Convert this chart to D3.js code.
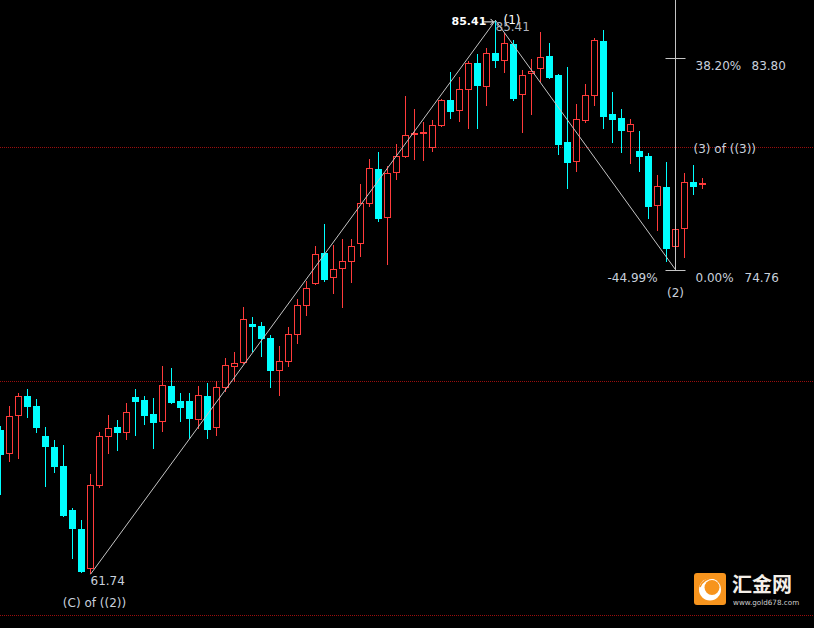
<!DOCTYPE html>
<html><head><meta charset="utf-8">
<script src="https://cdn.jsdelivr.net/npm/d3@7"></script>
<style>html,body{margin:0;padding:0;background:#000;overflow:hidden}</style>
</head><body>
<svg id="c" width="814" height="628"></svg>
<script>
// ---- data ----
const bars = [0,1,2,3,4,5,6,7,8,9,10,11,12,13,14,15,16,17,18,19,20,21,22,23,24,25,26,27,28,29,30,31,32,33,34,35,36,37,38,39,40,41,42,43,44,45,46,47,48,49,50,51,52,53,54,55,56,57,58,59,60,61,62,63,64,65,66,67,68,69,70,71,72,73,74,75,76,77,78];
const opens = [67.91,66.88,68.50,69.36,68.93,67.65,67.18,66.37,64.49,63.68,61.97,65.51,67.61,68.03,67.78,69.32,69.19,68.59,68.25,69.79,69.15,69.15,68.33,69.36,67.99,69.70,70.60,70.77,72.44,72.35,71.84,70.43,70.81,71.97,73.21,74.15,75.47,74.40,74.79,75.09,75.85,77.56,79.06,76.97,78.89,79.57,80.51,80.60,79.96,80.90,82.01,81.54,82.44,83.59,82.56,84.02,83.68,84.40,82.22,83.12,83.33,83.89,83.08,80.21,79.36,81.11,82.18,84.53,81.41,81.24,80.64,79.83,79.62,77.48,78.29,75.73,76.50,78.50,78.38];
const highs = [68.08,68.93,69.49,69.66,69.23,68.03,67.48,67.27,64.57,64.06,66.03,67.82,68.55,68.33,69.06,69.66,69.36,69.27,70.64,70.56,69.49,69.49,69.79,69.91,70.00,70.98,71.24,73.16,72.74,72.52,71.97,71.50,72.31,73.50,74.27,75.77,76.71,75.81,76.07,76.07,78.42,79.49,79.79,79.19,80.13,82.18,81.62,81.07,81.15,82.05,83.21,82.99,83.68,83.97,84.23,85.41,84.87,84.57,83.29,83.76,84.91,84.44,83.12,83.42,81.84,82.69,84.66,85.00,82.35,81.62,81.20,80.68,79.74,78.80,79.36,76.54,78.89,79.23,78.68];
const lows = [65.13,66.54,66.67,68.42,67.78,65.47,66.07,64.19,62.39,61.80,61.74,65.43,66.88,67.01,67.48,67.65,68.12,67.09,67.82,69.02,68.25,67.52,67.95,67.52,67.65,69.53,69.96,70.73,71.24,71.03,69.70,69.36,70.60,71.58,72.78,74.10,74.23,73.72,73.12,74.19,75.30,77.44,76.79,74.96,78.59,79.53,79.44,79.40,79.79,80.85,81.20,81.07,80.77,80.77,81.75,83.38,83.16,81.97,80.60,81.37,82.78,82.91,79.66,78.21,78.93,81.03,81.75,80.77,80.17,79.74,79.27,78.93,76.92,76.41,75.09,74.76,75.26,77.95,78.21];
const closes = [66.84,68.50,69.36,68.89,67.99,67.18,66.32,64.23,63.68,61.84,65.56,67.65,67.99,67.78,68.68,69.10,68.50,68.21,69.83,69.06,68.85,68.38,69.40,67.91,69.74,70.68,70.77,72.65,72.31,71.79,70.43,70.85,72.01,73.25,73.97,75.43,74.32,74.79,75.13,75.77,77.61,79.10,76.92,78.89,79.62,80.51,80.60,80.64,80.94,82.01,81.50,82.48,83.59,82.61,84.02,83.68,84.44,82.05,83.08,83.25,83.85,82.95,80.09,79.32,81.20,82.22,84.57,81.28,81.15,80.68,80.98,79.57,77.44,78.33,75.64,76.50,78.50,78.29,78.46];
const gridLevels = [60, 70, 80];
// wave pivots (bar index, price)
const waveBars = [10, 55, 75];
const wavePrices = [61.74, 85.41, 74.76];
// fibonacci levels
const fibPct = ["38.20%", "0.00%"];
const fibPrice = [83.80, 74.76];

// ---- scales ----
const W = 814, H = 628;
const x = d3.scaleLinear().domain([0, 78]).range([0.5, 702.5]);
const y = d3.scaleLinear().domain([60, 80]).range([615, 147]);
const RED = "#ff3b3b", CYAN = "#00ffff", LINE = "#c4c4c4", TXT = "#c9d0dc";

const svg = d3.select("#c");
svg.append("rect").attr("width", W).attr("height", H).attr("fill", "#000");

// grid
svg.append("g").selectAll("line").data(gridLevels).join("line")
  .attr("x1", 0).attr("x2", W)
  .attr("y1", d => Math.round(y(d)) + 0.5).attr("y2", d => Math.round(y(d)) + 0.5)
  .attr("stroke", "#9a0e0e").attr("stroke-dasharray", "1,1").attr("stroke-width", 1);

// candles
const data = bars.map((b, i) => ({b, o: opens[i], h: highs[i], l: lows[i], c: closes[i]}));
const cg = svg.append("g");
data.forEach(d => {
  const cx = Math.floor(x(d.b));
  const up = d.c >= d.o;
  const col = up ? RED : CYAN;
  cg.append("line").attr("x1", cx + 0.5).attr("x2", cx + 0.5)
    .attr("y1", Math.round(y(d.h))).attr("y2", Math.round(y(d.l)))
    .attr("stroke", col).attr("stroke-width", 1);
  const yt = Math.round(y(Math.max(d.o, d.c)));
  const yb = Math.round(y(Math.min(d.o, d.c)));
  if (up) {
    cg.append("rect").attr("x", cx - 3 + 0.5).attr("y", yt + 0.5)
      .attr("width", 6).attr("height", Math.max(1, yb - yt - 1))
      .attr("fill", "#000").attr("stroke", col).attr("stroke-width", 1);
  } else {
    cg.append("rect").attr("x", cx - 3).attr("y", yt)
      .attr("width", 7).attr("height", Math.max(1, yb - yt))
      .attr("fill", col);
  }
});

// wave lines
const pts = waveBars.map((b, i) => [x(b), y(wavePrices[i])]);
svg.append("path").attr("d", d3.line()(pts)).attr("fill", "none")
  .attr("stroke", LINE).attr("stroke-width", 1);

// fib tool
const fx = Math.floor(x(waveBars[2])) + 0.5;
svg.append("line").attr("x1", fx).attr("x2", fx).attr("y1", 0).attr("y2", Math.round(y(fibPrice[1])))
  .attr("stroke", LINE);
fibPrice.forEach((p, i) => {
  const yy = Math.round(y(p)) + 0.5;
  svg.append("line").attr("x1", fx - 10).attr("x2", fx + 10).attr("y1", yy).attr("y2", yy).attr("stroke", LINE);
  svg.append("text").attr("x", fx + 20).attr("y", yy + 11).text(fibPct[i])
    .attr("fill", TXT).attr("font-family", "DejaVu Sans").attr("font-size", 12);
  svg.append("text").attr("x", fx + (i === 0 ? 76 : 69)).attr("y", yy + 11).text(p.toFixed(2))
    .attr("fill", TXT).attr("font-family", "DejaVu Sans").attr("font-size", 12);
});

function label(t, xx, yy, opts = {}) {
  return svg.append("text").attr("x", xx).attr("y", yy).text(t)
    .attr("fill", opts.fill || TXT).attr("font-family", "DejaVu Sans")
    .attr("font-size", opts.size || 12).attr("font-weight", opts.weight || "normal")
    .attr("text-anchor", opts.anchor || "start");
}
// pivot labels
const p0 = pts[0], p1 = pts[1], p2 = pts[2];
label(wavePrices[0].toFixed(2), p0[0], p0[1] + 11);
label("(C) of ((2))", p0[0] + 4, p0[1] + 33, {anchor: "middle"});
label(wavePrices[1].toFixed(2), p1[0] - 44, p1[1] + 5, {fill: "#ffffff", weight: "bold", size: 11});
svg.append("path").attr("d", `M${p1[0]-12},${p1[1]+1.5}H${p1[0]-2}M${p1[0]-5},${p1[1]-1.5}L${p1[0]-2},${p1[1]+1.5}L${p1[0]-5},${p1[1]+4.5}`)
  .attr("stroke", "#ffffff").attr("fill", "none");
label("(1)", p1[0] + 8, p1[1] + 4, {fill: "#ffffff"});
label(wavePrices[1].toFixed(2), p1[0], p1[1] + 11, {fill: "#aeb4bd"});
label("-" + "44.99%", p2[0] - 68, p2[1] + 12);
label("(2)", p2[0], p2[1] + 27, {anchor: "middle"});
label("(3) of ((3))", fx + 18, y(80) + 6);

// logo
const lg = svg.append("g").attr("transform", "translate(694,573)");
lg.append("rect").attr("width", 32).attr("height", 32).attr("rx", 3).attr("fill", "#f7941d");
lg.append("circle").attr("cx", 16).attr("cy", 16.5).attr("r", 11).attr("fill", "#fff");
lg.append("circle").attr("cx", 18).attr("cy", 14.5).attr("r", 7.5).attr("fill", "#f7941d");
lg.append("path").attr("d", "M6,14 Q10,5 20,5").attr("stroke", "#f7941d").attr("stroke-width", 1.5).attr("fill", "none");
svg.append("text").attr("x", 732).attr("y", 592).text("汇金网")
  .attr("fill", "#f4efe8").attr("font-family", "Noto Sans CJK SC").attr("font-size", 20).attr("font-weight", "bold");
svg.append("text").attr("x", 733).attr("y", 605).text("www.gold678.com")
  .attr("fill", "#cfcfcf").attr("font-family", "DejaVu Sans").attr("font-size", 7.2);
</script>
</body></html>
